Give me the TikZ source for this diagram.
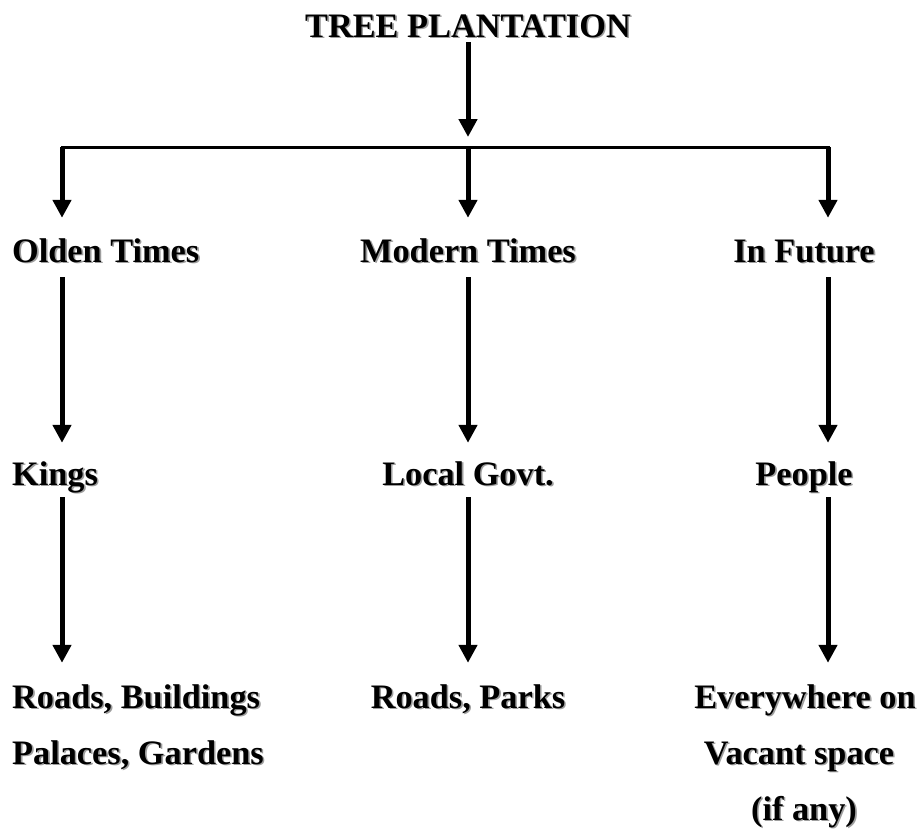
\documentclass[tikz,border=0pt]{standalone}
\usepackage{fontspec}
\setmainfont{Liberation Serif}
\usetikzlibrary{arrows.meta}
\newcommand\shd[1]{\leavevmode\rlap{\raisebox{-1.6pt}{\hspace{1.6pt}\textcolor{black!38}{#1}}}#1}
\tikzset{
  lbl/.style={inner sep=0pt, text height=24pt, text depth=8pt,
    font=\fontsize{34.3}{40}\selectfont\bfseries},
  arr/.style={line width=5pt, -{Triangle[width=18pt,length=18pt]}},
  bar/.style={line width=3pt, line cap=rect}
}
\begin{document}
\begin{tikzpicture}[x=1pt,y=-1pt]
\useasboundingbox (0,0) rectangle (920,828);
% coordinates of the branch bar
\coordinate (hl) at (62,147);
\coordinate (hub) at (468,147);
\coordinate (hr) at (828,147);
% title
\node[lbl, anchor=base] (title) at (468,37) {\shd{TREE PLANTATION}};
% row 1
\node[lbl, anchor=base west] (olden) at (12,262) {\shd{Olden Times}};
\node[lbl, anchor=base] (modern) at (468,262) {\shd{Modern Times}};
\node[lbl, anchor=base] (future) at (804,262) {\shd{In Future}};
% row 2
\node[lbl, anchor=base west] (kings) at (12,485) {\shd{Kings}};
\node[lbl, anchor=base] (govt) at (468,485) {\shd{Local Govt.}};
\node[lbl, anchor=base] (people) at (804,485) {\shd{People}};
% row 3
\node[lbl, anchor=base west] (roads) at (12,708) {\shd{Roads, Buildings}};
\node[lbl, anchor=base west] (palaces) at (12,764) {\shd{Palaces, Gardens}};
\node[lbl, anchor=base] (parks) at (468,708) {\shd{Roads, Parks}};
\node[lbl, anchor=base] (every) at (805,708) {\shd{Everywhere on}};
\node[lbl, anchor=base] (vacant) at (799,764) {\shd{Vacant space}};
\node[lbl, anchor=base] (ifany) at (804,820) {\shd{(if any)}};
% connectors
\draw[arr, shorten <=-3pt, shorten >=10pt] (title.south) -- (hub);
\draw[bar] (hl) -- (hr);
\draw[arr, shorten >=20pt] (hl) -- (olden.north -| hl);
\draw[arr, shorten >=20pt] (hub) -- (modern.north -| hub);
\draw[arr, shorten >=20pt] (hr) -- (future.north -| hr);
\draw[arr, shorten <=7pt, shorten >=18pt] (olden.south -| hl) -- (kings.north -| hl);
\draw[arr, shorten <=7pt, shorten >=18pt] (modern.south -| hub) -- (govt.north -| hub);
\draw[arr, shorten <=7pt, shorten >=18pt] (future.south -| hr) -- (people.north -| hr);
\draw[arr, shorten <=4pt, shorten >=21pt] (kings.south -| hl) -- (roads.north -| hl);
\draw[arr, shorten <=4pt, shorten >=21pt] (govt.south -| hub) -- (parks.north -| hub);
\draw[arr, shorten <=4pt, shorten >=21pt] (people.south -| hr) -- (every.north -| hr);
\end{tikzpicture}
\end{document}
